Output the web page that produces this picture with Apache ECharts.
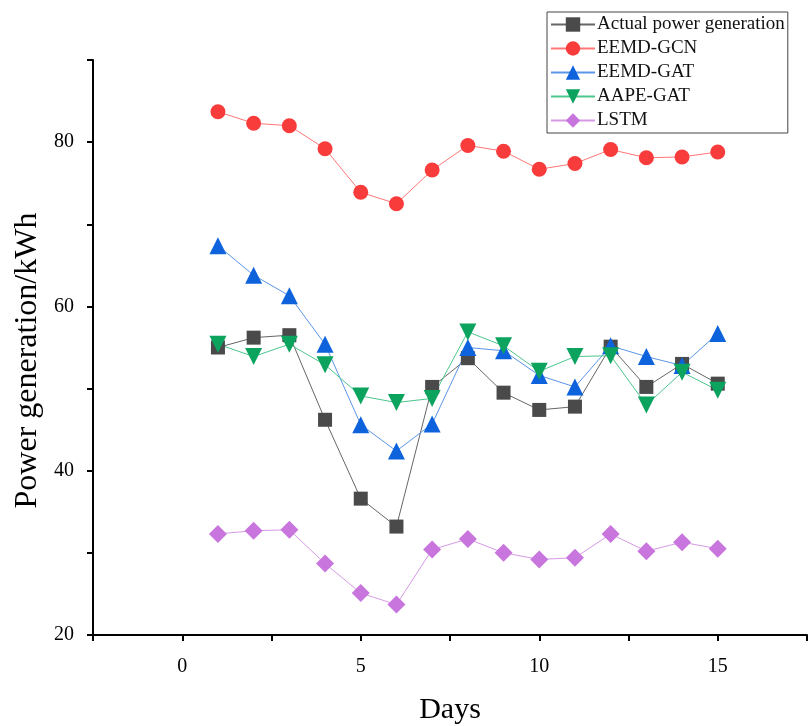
<!DOCTYPE html>
<html>
<head>
<meta charset="utf-8">
<script src="https://cdn.jsdelivr.net/npm/echarts@6/dist/echarts.min.js"></script>
<style>
  html, body { margin: 0; padding: 0; background: #fff; }
  #chart { width: 809px; height: 726px; }
</style>
</head>
<body>
<div id="chart"></div>
<script>
const days = [1, 2, 3, 4, 5, 6, 7, 8, 9, 10, 11, 12, 13, 14, 15]
const actual = [55.0, 56.2, 56.5, 46.2, 36.6, 33.2, 50.2, 53.7, 49.5, 47.4, 47.8, 55.1, 50.2, 53.0, 50.6]
const eemdGcn = [83.7, 82.3, 82.0, 79.2, 73.9, 72.5, 76.6, 79.6, 78.9, 76.7, 77.4, 79.1, 78.1, 78.2, 78.8]
const eemdGat = [67.4, 63.8, 61.3, 55.4, 45.6, 42.4, 45.7, 55.0, 54.6, 51.6, 50.2, 55.2, 53.9, 52.8, 56.7]
const aapeGat = [55.4, 53.9, 55.4, 52.9, 49.1, 48.3, 48.8, 56.9, 55.2, 52.1, 53.9, 54.0, 48.0, 52.0, 49.8]
const lstm = [32.3, 32.7, 32.8, 28.7, 25.1, 23.7, 30.4, 31.7, 30.0, 29.2, 29.4, 32.3, 30.2, 31.3, 30.5]

const serif = 'Liberation Serif'

function pairs(arr) {
  return days.map((d, i) => [d, arr[i]])
}

function makeSeries(name, arr, symbol, size, markerColor, lineColor) {
  return {
    name: name,
    type: 'line',
    data: pairs(arr),
    symbol: symbol,
    symbolSize: size,
    itemStyle: { color: markerColor, opacity: 1 },
    lineStyle: { color: lineColor, width: 1 },
    emphasis: { disabled: true },
    animation: false
  }
}

let myChart = echarts.init(document.getElementById('chart'))

let options = {
  backgroundColor: '#fff',
  grid: { left: 93, top: 60, right: 2, bottom: 91, outerBoundsMode: 'none', containLabel: false },
  legend: {
    orient: 'vertical',
    left: 547,
    top: 12,
    padding: [3, 3, 3, 3],
    itemGap: 5,
    itemWidth: 44,
    itemHeight: 18,
    borderColor: '#444',
    borderWidth: 1,
    backgroundColor: '#fff',
    textStyle: { fontFamily: serif, fontSize: 19, color: '#111', padding: [0, 0, 0, -3] },
    data: ['Actual power generation', 'EEMD-GCN', 'EEMD-GAT', 'AAPE-GAT', 'LSTM']
  },
  xAxis: {
    type: 'value',
    min: -2.5,
    max: 17.5,
    interval: 2.5,
    name: 'Days',
    nameLocation: 'middle',
    nameGap: 60,
    nameTextStyle: { fontFamily: serif, fontSize: 30, color: '#000' },
    axisLine: { onZero: false, lineStyle: { color: '#000', width: 2 } },
    axisTick: { lineStyle: { color: '#000', width: 2 }, length: 6 },
    splitLine: { show: false },
    axisLabel: {
      fontFamily: serif, fontSize: 20, color: '#000', margin: 22,
      formatter: v => (v % 5 === 0 ? String(v) : '')
    }
  },
  yAxis: {
    type: 'value',
    min: 20,
    max: 90,
    interval: 10,
    name: 'Power generation/kWh',
    nameLocation: 'middle',
    nameGap: 48,
    nameTextStyle: { fontFamily: serif, fontSize: 32, color: '#000', padding: [0, 26, 0, 0] },
    axisLine: { show: true, onZero: false, lineStyle: { color: '#000', width: 2 } },
    axisTick: { show: true, lineStyle: { color: '#000', width: 2 }, length: 6 },
    splitLine: { show: false },
    axisLabel: {
      fontFamily: serif, fontSize: 20, color: '#000', margin: 19,
      formatter: v => (v % 20 === 0 ? String(v) : '')
    }
  },
  series: [
    makeSeries('Actual power generation', actual, 'rect', 14, '#4a4a4a', '#666'),
    makeSeries('EEMD-GCN', eemdGcn, 'circle', 15, '#f83c3c', '#f77'),
    makeSeries('EEMD-GAT', eemdGat, 'triangle', 17, '#0e63dd', '#5b95e8'),
    makeSeries('AAPE-GAT', aapeGat, 'path://M0,0 L10,0 L5,9 Z', 17, '#0ba35e', '#4cc68d'),
    makeSeries('LSTM', lstm, 'diamond', 18, '#c875de', '#d69ae6')
  ]
}
myChart.setOption(options)
</script>
</body>
</html>
